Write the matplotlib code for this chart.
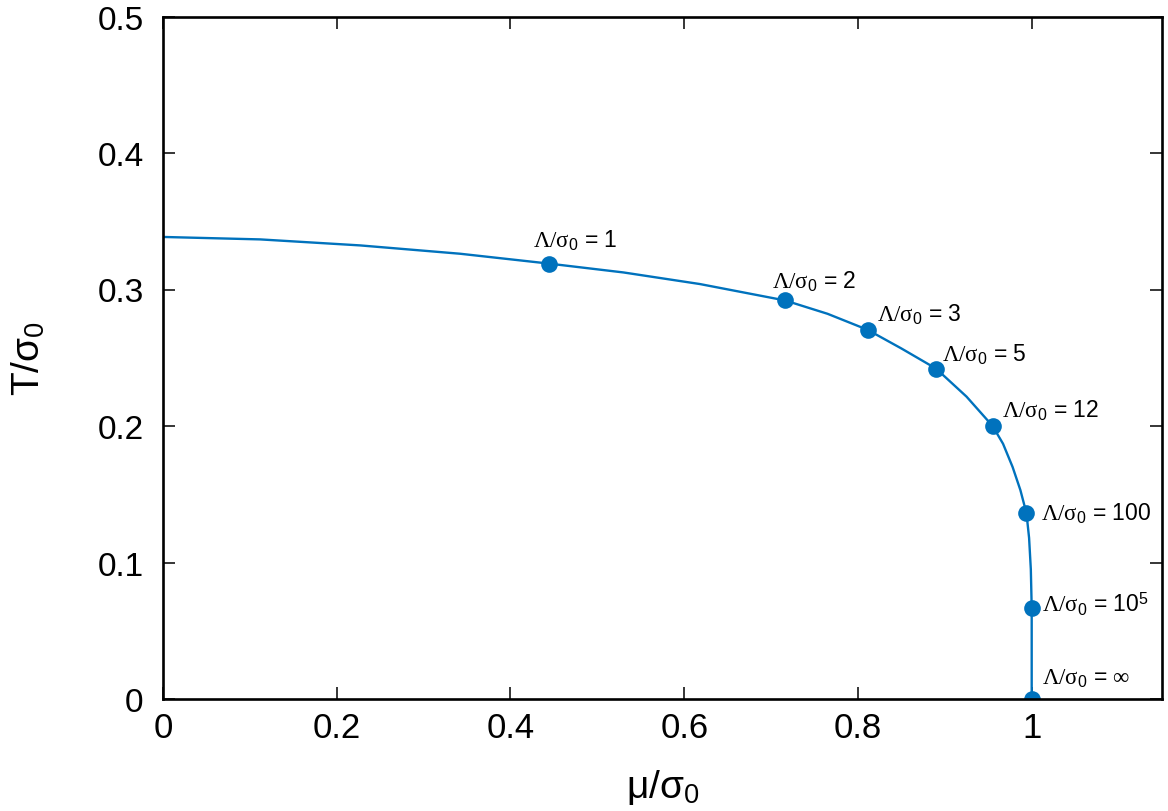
import matplotlib
matplotlib.use('Agg')
import matplotlib.pyplot as plt

# phase boundary
mu_line = [0.0, 0.112, 0.227, 0.342, 0.444, 0.53, 0.618, 0.716, 0.765, 0.811,
           0.85, 0.890, 0.925, 0.955, 0.967, 0.978, 0.987, 0.994, 0.997, 0.999, 1.0, 1.0]
T_line = [0.3385, 0.3367, 0.3323, 0.3262, 0.319, 0.3125, 0.304, 0.292, 0.2822, 0.2705,
          0.2568, 0.242, 0.2215, 0.200, 0.187, 0.170, 0.153, 0.136, 0.118, 0.095, 0.067, 0.0]

# marked cutoffs
cut_mu = [0.444, 0.716, 0.811, 0.890, 0.955, 0.994, 1.0, 1.0]
cut_T = [0.319, 0.292, 0.2705, 0.242, 0.200, 0.136, 0.067, 0.0]
cut_vals = ['1', '2', '3', '5', '12', '100', r'10$^\mathsf{5}$', r'$\mathrm{\infty}$']
# label offsets in pixels from the dot (left/baseline of the text)
cut_off = [(-16, 17), (-13, 13), (9, 9), (6, 8), (9, 9), (15, -6), (10, -4), (10, 15)]

xticks = [0, 0.2, 0.4, 0.6, 0.8, 1.0]
xticklabels = ['0', '0.2', '0.4', '0.6', '0.8', '1']
yticks = [0, 0.1, 0.2, 0.3, 0.4, 0.5]
yticklabels = ['0', '0.1', '0.2', '0.3', '0.4', '0.5']

plt.rcParams['font.family'] = ['Liberation Sans', 'DejaVu Sans']
plt.rcParams['mathtext.fontset'] = 'custom'
plt.rcParams['mathtext.rm'] = 'Liberation Serif'
plt.rcParams['mathtext.sf'] = 'Liberation Sans'
plt.rcParams['mathtext.it'] = 'Liberation Serif:italic'

color = '#0072bd'

fig = plt.figure(figsize=(11.68, 8.12), dpi=100)
ax = fig.add_axes([163 / 1168, 112 / 812, 999 / 1168, 682.5 / 812])

ax.plot(mu_line, T_line, color=color, linewidth=1.7)
ax.plot(cut_mu, cut_T, 'o', color=color, markersize=12, markeredgewidth=0)

for m, t, v, off in zip(cut_mu, cut_T, cut_vals, cut_off):
    ax.annotate(r'$\mathrm{\Lambda/\sigma}_\mathsf{0}$ = ' + v, xy=(m, t),
                xytext=off, textcoords='offset pixels',
                ha='left', va='baseline', fontsize=16.5, annotation_clip=False)

ax.set_xlim(0, 1.15)
ax.set_ylim(0, 0.5)
ax.set_xticks(xticks)
ax.set_xticklabels(xticklabels, fontsize=25)
ax.set_yticks(yticks)
ax.set_yticklabels(yticklabels, fontsize=24)
ax.tick_params(direction='in', top=True, right=True, length=8.5, width=1.1)
ax.tick_params(axis='x', pad=9)
ax.tick_params(axis='y', pad=14)
for s in ax.spines.values():
    s.set_linewidth(1.9)

ax.set_xlabel(r'μ/σ$_\mathsf{0}$', fontsize=28, labelpad=16)
ax.set_ylabel(r'T/σ$_\mathsf{0}$', fontsize=28, labelpad=36)

plt.savefig('out.png', dpi=100)
plt.close()
